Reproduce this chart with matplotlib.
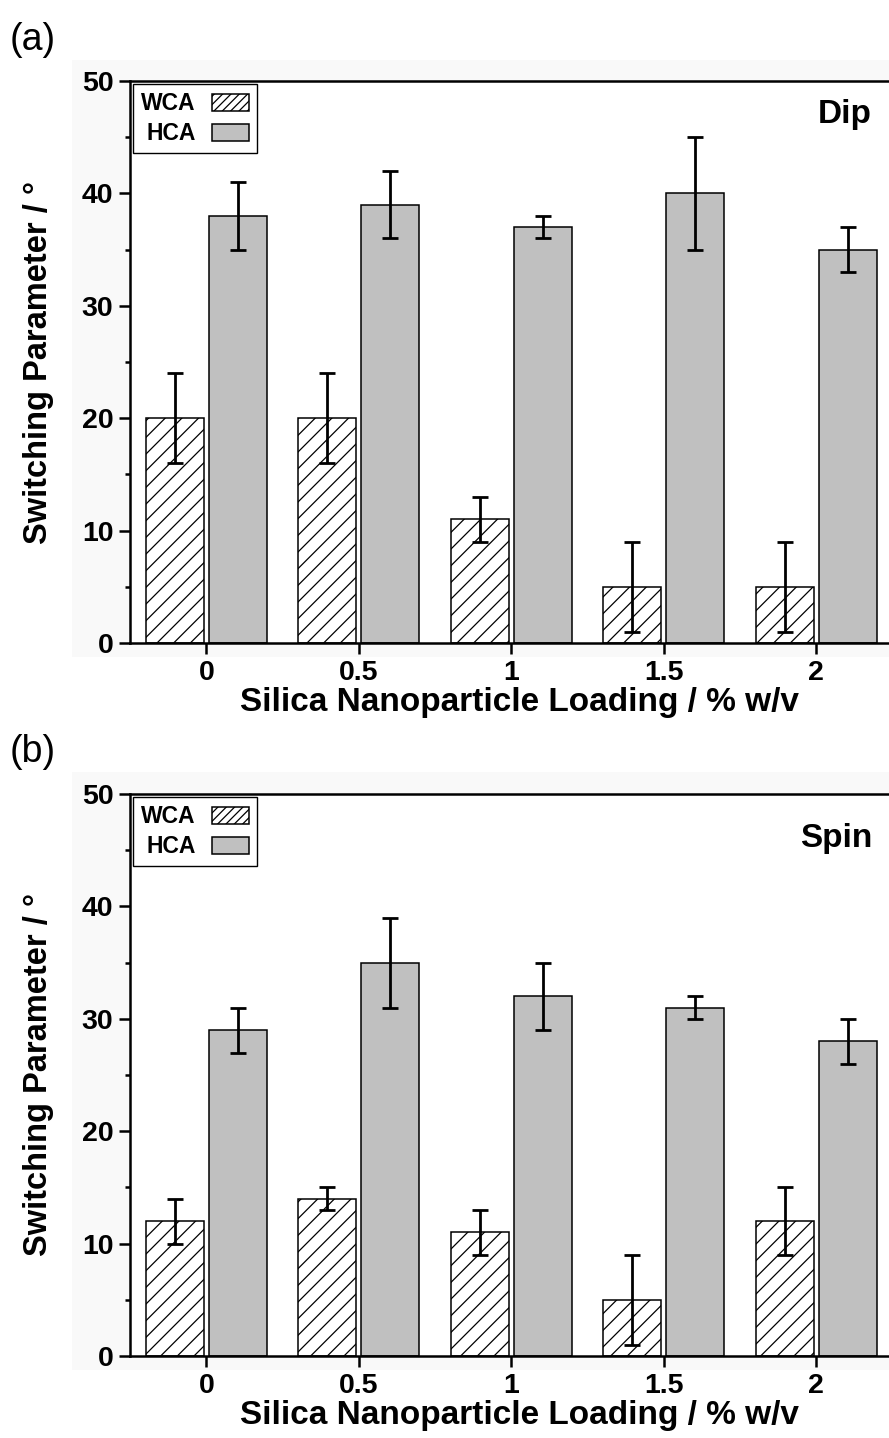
import matplotlib
matplotlib.use("Agg")
import matplotlib.pyplot as plt
from matplotlib.patches import Rectangle, Patch
from matplotlib.ticker import MultipleLocator
from matplotlib.transforms import blended_transform_factory
import numpy as np

plt.rcParams['font.family'] = ['Liberation Sans', 'DejaVu Sans']
plt.rcParams['hatch.linewidth'] = 0.9

loading = [0, 0.5, 1, 1.5, 2]
tick_labels = ['0', '0.5', '1', '1.5', '2']

dip_wca = [20, 20, 11, 5, 5]
dip_wca_err = [4, 4, 2, 4, 4]
dip_hca = [38, 39, 37, 40, 35]
dip_hca_err = [3, 3, 1, 5, 2]

spin_wca = [12, 14, 11, 5, 12]
spin_wca_err = [2, 1, 2, 4, 3]
spin_hca = [29, 35, 32, 31, 28]
spin_hca_err = [2, 4, 3, 1, 2]

W, H = 889, 1438
fig = plt.figure(figsize=(W / 100, H / 100), dpi=100)


def px_rect(x0, y0, x1, y1):
    return [x0 / W, 1 - y1 / H, (x1 - x0) / W, (y1 - y0) / H]


panels = [
    dict(top=81, bottom=643, wca=dip_wca, wcae=dip_wca_err, hca=dip_hca, hcae=dip_hca_err,
         name='Dip', label='(a)', label_y=40, bg=(72, 60, 889, 657), ny=0.94),
    dict(top=794, bottom=1356, wca=spin_wca, wcae=spin_wca_err, hca=spin_hca, hcae=spin_hca_err,
         name='Spin', label='(b)', label_y=752, bg=(72, 772, 889, 1370), ny=0.92),
]

x = np.array(loading)
bw = 0.19
AX_RIGHT = 910
XMIN = -0.25
XMAX = (AX_RIGHT - 130) / 305.0 + XMIN

for p in panels:
    bx0, by0, bx1, by1 = p['bg']
    fig.patches.append(Rectangle((bx0 / W, 1 - by1 / H), (bx1 - bx0) / W, (by1 - by0) / H,
                                 transform=fig.transFigure, facecolor='#f9f9f9',
                                 edgecolor='none', zorder=-10))
    ax = fig.add_axes(px_rect(130, p['top'], AX_RIGHT, p['bottom']))
    ax.set_facecolor('white')
    ax.bar(x - 0.103, p['wca'], bw, facecolor='white', edgecolor='black', hatch='//',
           linewidth=1.1, zorder=2)
    ax.bar(x + 0.103, p['hca'], bw, facecolor='#c0c0c0', edgecolor='black',
           linewidth=1.1, zorder=2)
    ax.errorbar(x - 0.103, p['wca'], yerr=p['wcae'], fmt='none', ecolor='black',
                elinewidth=2.0, capsize=5.5, capthick=2.0, zorder=3)
    ax.errorbar(x + 0.103, p['hca'], yerr=p['hcae'], fmt='none', ecolor='black',
                elinewidth=2.0, capsize=5.5, capthick=2.0, zorder=3)
    ax.set_xlim(XMIN, XMAX)
    ax.set_ylim(0, 50)
    ax.set_xticks(loading)
    ax.set_xticklabels(tick_labels)
    ax.yaxis.set_major_locator(MultipleLocator(10))
    ax.yaxis.set_minor_locator(MultipleLocator(5))
    for s in ['left', 'bottom', 'top', 'right']:
        ax.spines[s].set_linewidth(1.8)
    ax.tick_params(axis='both', which='major', direction='out', length=8, width=1.8,
                   labelsize=20.5, pad=4)
    ax.tick_params(axis='y', which='minor', direction='out', length=3.8, width=1.8)
    ax.tick_params(axis='x', which='minor', bottom=False)
    for t in ax.get_xticklabels() + ax.get_yticklabels():
        t.set_fontweight('bold')
    ax.set_xlabel('Silica Nanoparticle Loading / % w/v', fontsize=24, fontweight='bold',
                  labelpad=1)
    ax.set_ylabel('Switching Parameter / °', fontsize=23.5, fontweight='bold')
    ax.yaxis.set_label_coords(-0.097, 0.5)
    tr = blended_transform_factory(ax.transData, ax.transAxes)
    ax.text((872 - 130) / 305.0 + XMIN, p['ny'], p['name'], transform=tr, ha='right',
            va='center', fontsize=24, fontweight='bold')
    handles = [Patch(facecolor='white', edgecolor='black', hatch='////', linewidth=1.1),
               Patch(facecolor='#c0c0c0', edgecolor='black', linewidth=1.1)]
    leg = ax.legend(handles, ['WCA', 'HCA'], loc='upper left', markerfirst=False,
                    fancybox=False, frameon=True, edgecolor='black', framealpha=1,
                    borderaxespad=0.15, prop={'weight': 'bold', 'size': 16.5},
                    handlelength=1.6, handleheight=0.75, labelspacing=0.3,
                    handletextpad=0.7, borderpad=0.35)
    leg.get_frame().set_linewidth(1.0)
    fig.text(10 / W, 1 - p['label_y'] / H, p['label'], fontsize=27, ha='left', va='center')

fig.savefig('out.png', dpi=100)
